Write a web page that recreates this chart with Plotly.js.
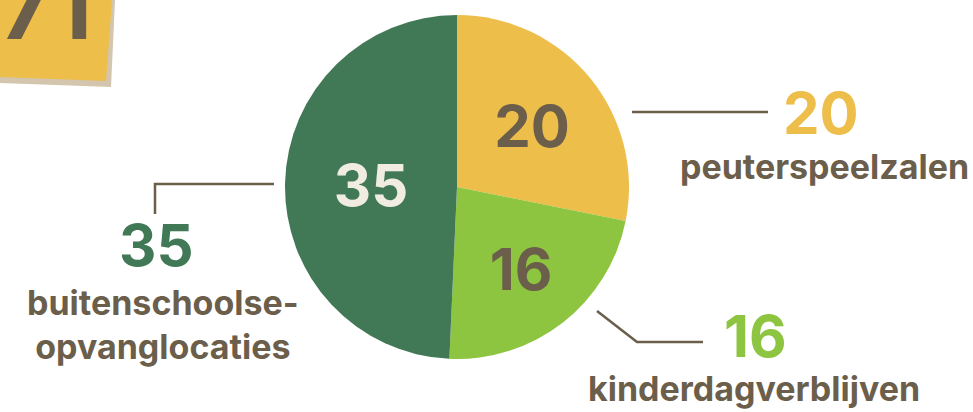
<!DOCTYPE html>
<html>
<head>
<meta charset="utf-8">
<script src="https://cdn.plot.ly/plotly-3.0.1.min.js"></script>
<style>html,body{margin:0;padding:0;background:#fff;}#chart{width:973px;height:412px;}</style>
</head>
<body>
<div id="chart"></div>
<script>
// ---- data ----
const categories = ["peuterspeelzalen", "kinderdagverblijven", "buitenschoolse-<br>opvanglocaties"];
const values = [20, 16, 35];
const total = 71;

// ---- styles ----
const W = 973, H = 412;
const brown = "#6B5E4B";
const sliceColors = ["#EDBE4A", "#8DC540", "#417855"];
const insideColors = [brown, brown, "#F1ECE2"];
const FONT = "Inter, 'Open Sans', sans-serif";

function px(x) { return x / W; }
function py(y) { return 1 - y / H; }
function path(pts) {
  return pts.map((p, i) => (i ? "L" : "M") + px(p[0]).toFixed(5) + "," + py(p[1]).toFixed(5)).join(" ") ;
}

const trace = {
  type: "pie",
  values: values,
  labels: categories,
  sort: false,
  direction: "clockwise",
  rotation: 0,
  hole: 0,
  marker: { colors: sliceColors, line: { width: 0 } },
  textinfo: "value",
  textposition: "inside",
  insidetextorientation: "horizontal",
  textfont: { family: FONT, size: 58, color: insideColors, weight: 700 },
  domain: { x: [px(457 - 172), px(457 + 172)], y: [py(187 + 172), py(187 - 172)] },
  showlegend: false,
  hoverinfo: "label+value"
};

// outside label positions (pixel centres)
const numPos = [[821, 113], [755, 336], [156, 245]];
const labPos = [[824, 167], [754, 388], [163, 324]];

const annotations = [];
values.forEach((v, i) => {
  annotations.push({
    xref: "paper", yref: "paper", x: px(numPos[i][0]), y: py(numPos[i][1]),
    xanchor: "center", yanchor: "middle", showarrow: false,
    text: String(v),
    font: { family: FONT, size: 58, color: sliceColors[i], weight: 700 }
  });
  annotations.push({
    xref: "paper", yref: "paper", x: px(labPos[i][0]), y: py(labPos[i][1]),
    xanchor: "center", yanchor: "middle", showarrow: false,
    text: categories[i],
    font: { family: FONT, size: 34, color: brown, weight: 700 }
  });
});
// total on the note (cut off at the top edge, as in the reference)
annotations.push({
  xref: "paper", yref: "paper", x: px(94), y: py(63),
  xanchor: "right", yanchor: "bottom", showarrow: false,
  text: String(total),
  font: { family: FONT, size: 92, color: brown, weight: 700 }
});

const lineStyle = { color: brown, width: 2.5 };
const shapes = [
  { type: "path", xref: "paper", yref: "paper", path: path([[0,0],[115,0],[111,87],[0,83]]) + " Z", fillcolor: "#D3C5AE", line: { width: 0 }, layer: "below" },
  { type: "path", xref: "paper", yref: "paper", path: path([[0,0],[112,0],[106,81],[0,77]]) + " Z", fillcolor: "#EDBE4A", line: { width: 0 }, layer: "below" },
  { type: "path", xref: "paper", yref: "paper", path: path([[632,112],[768,112]]), line: lineStyle },
  { type: "path", xref: "paper", yref: "paper", path: path([[597,311],[637,342],[703,342]]), line: lineStyle },
  { type: "path", xref: "paper", yref: "paper", path: path([[155,214],[155,184],[274,184]]), line: lineStyle }
];

const layout = {
  width: W, height: H,
  margin: { l: 0, r: 0, t: 0, b: 0 },
  paper_bgcolor: "#ffffff",
  plot_bgcolor: "#ffffff",
  annotations: annotations,
  shapes: shapes,
  font: { family: FONT }
};

Plotly.newPlot("chart", [trace], layout, { displayModeBar: false, staticPlot: true });
</script>
</body>
</html>
